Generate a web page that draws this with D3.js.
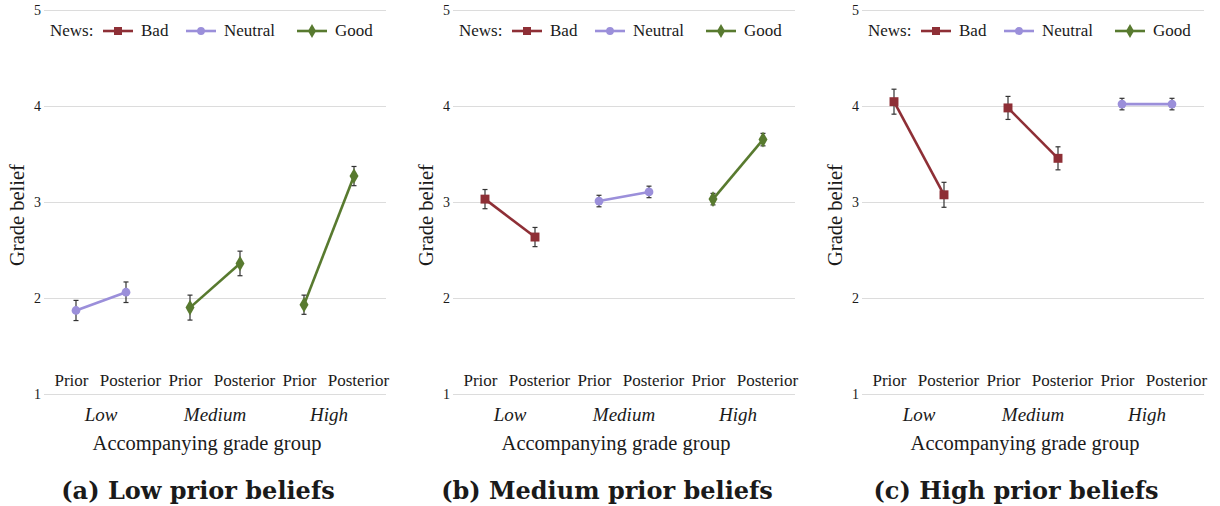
<!DOCTYPE html>
<html>
<head>
<meta charset="utf-8">
<script src="https://cdn.jsdelivr.net/npm/d3@7"></script>
<style>
  body { margin: 0; background: #fff; }
  svg text { fill: #1a1a1a; }
</style>
</head>
<body>
<div id="chart"></div>
<script>
const groups = ["Low", "Medium", "High"];
const stages = ["Prior", "Posterior"];
const newsTypes = ["Bad", "Neutral", "Good"];
const yTicks = [1, 2, 3, 4, 5];
const panelTitles = ["(a) Low prior beliefs", "(b) Medium prior beliefs", "(c) High prior beliefs"];

// which news each grade group got, per panel
const lowNews = ["Neutral", "Good", "Good"];
const lowMeans = [[1.87, 2.06], [1.90, 2.36], [1.93, 3.27]];
const lowErrors = [[0.105, 0.107], [0.13, 0.128], [0.10, 0.10]];

const medNews = ["Bad", "Neutral", "Good"];
const medMeans = [[3.03, 2.635], [3.01, 3.105], [3.03, 3.65]];
const medErrors = [[0.10, 0.10], [0.06, 0.06], [0.06, 0.065]];

const highNews = ["Bad", "Bad", "Neutral"];
const highMeans = [[4.045, 3.075], [3.98, 3.455], [4.02, 4.02]];
const highErrors = [[0.13, 0.13], [0.12, 0.12], [0.06, 0.06]];

const panels = [
  {news: lowNews, means: lowMeans, errors: lowErrors},
  {news: medNews, means: medMeans, errors: medErrors},
  {news: highNews, means: highMeans, errors: highErrors}
];

const color = d3.scaleOrdinal().domain(newsTypes).range(["#8e2f36", "#9b8fda", "#587a2f"]);
const symbol = d3.scaleOrdinal().domain(newsTypes).range([d3.symbolSquare, d3.symbolCircle, d3.symbolDiamond]);
const symSize = {Bad: 80, Neutral: 60, Good: 70};

const serif = "Liberation Serif";
const width = 1220, height = 506;
const panelStep = 409;
const margin = {top: 10, left: 44, bottom: 112};
const innerW = 342;

const svg = d3.select("#chart").append("svg")
  .attr("width", width).attr("height", height)
  .style("font-family", serif);

const y = d3.scaleLinear().domain([1, 5]).range([height - margin.bottom, margin.top]);
const x = d3.scaleBand().domain(groups).range([margin.left, margin.left + innerW]);
const pointOff = d3.scalePoint().domain(stages).range([-25, 25]);
const labelOff = d3.scalePoint().domain(stages).range([-29.5, 29.5]);

panels.forEach((p, i) => {
  const g = svg.append("g").attr("transform", `translate(${i * panelStep},0)`);

  // grid + y ticks
  const yAxis = g.append("g").attr("transform", `translate(${margin.left},0)`)
    .call(d3.axisLeft(y).tickValues(yTicks).tickSize(-innerW).tickPadding(3).tickFormat(d3.format("d")));
  yAxis.select(".domain").remove();
  yAxis.selectAll(".tick line").attr("stroke", "#dcdcdc").attr("stroke-width", 1.2);
  yAxis.selectAll(".tick text").attr("font-size", 14).attr("font-family", serif).attr("fill", "#1a1a1a");

  g.append("text")
    .attr("transform", `translate(24,215) rotate(-90)`)
    .attr("text-anchor", "middle").attr("font-size", 20.5)
    .text("Grade belief");

  // stage labels
  groups.forEach(gr => {
    stages.forEach(st => {
      g.append("text")
        .attr("x", x(gr) + x.bandwidth() / 2 + labelOff(st))
        .attr("y", 386).attr("text-anchor", "middle").attr("font-size", 17)
        .text(st);
    });
    g.append("text")
      .attr("x", x(gr) + x.bandwidth() / 2).attr("y", 421)
      .attr("text-anchor", "middle").attr("font-size", 19).attr("font-style", "italic")
      .text(gr);
  });

  g.append("text")
    .attr("x", margin.left + innerW / 2 - 8).attr("y", 450)
    .attr("text-anchor", "middle").attr("font-size", 20.5)
    .text("Accompanying grade group");

  // series
  groups.forEach((gr, gi) => {
    const news = p.news[gi];
    const cx = st => x(gr) + x.bandwidth() / 2 + pointOff(st);
    const pts = stages.map((st, si) => ({st, v: p.means[gi][si], e: p.errors[gi][si]}));

    g.append("path")
      .datum(pts)
      .attr("fill", "none").attr("stroke", color(news)).attr("stroke-width", 2.6)
      .attr("d", d3.line().x(d => cx(d.st)).y(d => y(d.v)));

    const eb = g.append("g").attr("stroke", "#333").attr("stroke-width", 1.2);
    pts.forEach(d => {
      eb.append("line").attr("x1", cx(d.st)).attr("x2", cx(d.st))
        .attr("y1", y(d.v - d.e)).attr("y2", y(d.v + d.e));
      [d.v - d.e, d.v + d.e].forEach(v => {
        eb.append("line").attr("x1", cx(d.st) - 2.5).attr("x2", cx(d.st) + 2.5)
          .attr("y1", y(v)).attr("y2", y(v));
      });
    });

    g.selectAll(null).data(pts).join("path")
      .attr("transform", d => `translate(${cx(d.st)},${y(d.v)})`)
      .attr("d", d3.symbol().type(symbol(news)).size(symSize[news]))
      .attr("fill", color(news));
  });

  // legend
  const leg = g.append("g").attr("transform", "translate(50,31)");
  leg.append("text").attr("x", 0).attr("y", 5).attr("font-size", 17).text("News:");
  const legX = [53, 136, 247];
  newsTypes.forEach((n, k) => {
    const item = leg.append("g").attr("transform", `translate(${legX[k]},0)`);
    item.append("line").attr("x1", 0).attr("x2", 30)
      .attr("stroke", color(n)).attr("stroke-width", 2.6);
    item.append("path").attr("transform", "translate(15,0)")
      .attr("d", d3.symbol().type(symbol(n)).size(symSize[n] * 0.8))
      .attr("fill", color(n));
    item.append("text").attr("x", 38).attr("y", 5).attr("font-size", 17).text(n);
  });

  g.append("text")
    .attr("x", 198).attr("y", 499)
    .attr("text-anchor", "middle").attr("font-size", 24).attr("font-weight", "bold")
    .style("font-family", "DejaVu Serif")
    .text(panelTitles[i]);
});
</script>
</body>
</html>
